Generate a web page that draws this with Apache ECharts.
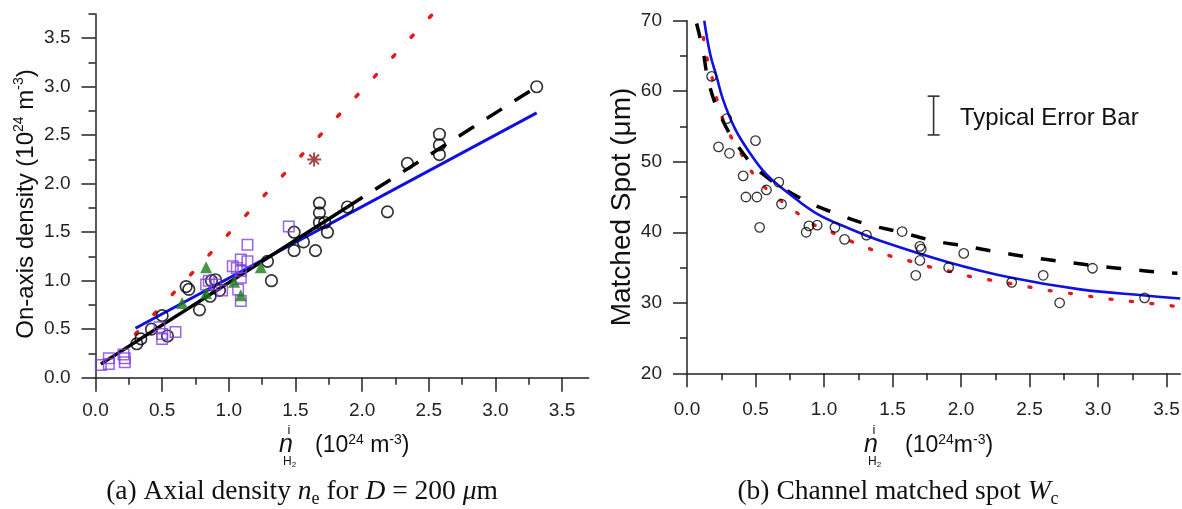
<!DOCTYPE html>
<html><head><meta charset="utf-8">
<script src="https://cdn.jsdelivr.net/npm/echarts@6/dist/echarts.min.js"></script>
<style>html,body{margin:0;padding:0;background:#fff}#c{width:1182px;height:509px}</style>
</head><body><div id="c"></div>
<script>
// ---------- Tick values ----------
const leftXMajor = [0, 0.5, 1, 1.5, 2, 2.5, 3, 3.5];
const leftXMinor = [0, 0.25, 0.5, 0.75, 1, 1.25, 1.5, 1.75, 2, 2.25, 2.5, 2.75, 3, 3.25, 3.5];
const leftYMajor = [0, 0.5, 1, 1.5, 2, 2.5, 3, 3.5];
const leftYMinor = [0, 0.25, 0.5, 0.75, 1, 1.25, 1.5, 1.75, 2, 2.25, 2.5, 2.75, 3, 3.25, 3.5, 3.75];
const rightXMajor = [0, 0.5, 1, 1.5, 2, 2.5, 3, 3.5];
const rightXMinor = [0, 0.25, 0.5, 0.75, 1, 1.25, 1.5, 1.75, 2, 2.25, 2.5, 2.75, 3, 3.25, 3.5];
const rightYMajor = [20, 30, 40, 50, 60, 70];
const rightYMinor = [20, 25, 30, 35, 40, 45, 50, 55, 60, 65, 70];

// ---------- Left panel (a) data ----------
const leftCircles = [[0.31,0.35],[0.34,0.40],[0.42,0.50],[0.50,0.64],[0.54,0.43],[0.68,0.94],[0.70,0.91],[0.78,0.70],[0.86,0.84],[0.87,1.00],[0.90,1.01],[0.93,0.90],[1.29,1.20],[1.32,1.00],[1.49,1.50],[1.49,1.31],[1.56,1.40],[1.65,1.31],[1.68,1.80],[1.68,1.70],[1.68,1.60],[1.72,1.60],[1.74,1.50],[1.89,1.76],[2.19,1.71],[2.34,2.21],[2.58,2.51],[2.58,2.40],[2.58,2.30],[3.31,3.00]];
const leftSquares = [[0.04,0.13],[0.10,0.20],[0.10,0.14],[0.21,0.24],[0.22,0.16],[0.22,0.20],[0.48,0.52],[0.50,0.45],[0.50,0.40],[0.60,0.47],[0.83,0.96],[0.85,1.00],[0.90,0.96],[0.95,0.90],[1.03,1.15],[1.06,1.13],[1.09,1.22],[1.09,1.10],[1.09,1.03],[1.07,0.91],[1.09,0.79],[1.14,1.20],[1.14,1.37],[1.45,1.56]];
const leftTriangles = [[0.65,0.77],[0.83,1.14],[0.83,0.87],[1.04,0.99],[1.09,0.85],[1.24,1.14]];
const leftStar = [[1.64,2.25]];
const leftRedFit = [[0.30,0.45],[2.55,3.78]];
const leftBlackFitSolid = [[0.04,0.14],[1.89,1.76]];
const leftBlackFitDashed = [[1.89,1.76],[3.31,3.00]];
const leftBlueFit = [[0.30,0.51],[3.31,2.73]];

// ---------- Right panel (b) data ----------
const rightCircles = [[0.18,62.1],[0.23,52.1],[0.29,56.1],[0.31,51.2],[0.41,48.0],[0.43,45.0],[0.50,53.0],[0.51,45.0],[0.53,40.7],[0.58,46.0],[0.67,47.1],[0.69,44.0],[0.87,40.0],[0.89,40.9],[0.95,41.0],[1.08,40.7],[1.15,39.0],[1.31,39.6],[1.57,40.1],[1.70,38.0],[1.71,37.6],[1.70,36.0],[1.67,33.9],[1.91,35.0],[2.02,37.0],[2.37,32.9],[2.60,33.9],[2.72,30.0],[2.96,34.9],[3.34,30.7]];
const rightBlue = [[0.126,70.0],[0.17,65.2],[0.217,62.0],[0.265,58.7],[0.35,54.7],[0.45,51.5],[0.58,48.2],[0.75,45.4],[0.95,42.6],[1.2,40.4],[1.41,38.8],[1.9,35.8],[2.38,33.5],[2.87,31.9],[3.36,31.0],[3.6,30.6]];
const rightBlackDashed = [[0.07,69.6],[0.115,65.9],[0.16,61.1],[0.245,56.5],[0.375,52.1],[0.55,48.3],[0.85,44.6],[1.08,42.7],[1.32,41.1],[1.54,40.1],[1.80,38.8],[2.04,38.0],[2.27,37.2],[2.52,36.4],[2.76,35.8],[3.00,35.2],[3.25,34.7],[3.48,34.3],[3.58,34.2]];
const rightRedDotted = [[0.12,67.6],[0.145,64.8],[0.18,62.2],[0.213,59.2],[0.254,56.4],[0.314,53.8],[0.40,51.0],[0.486,48.2],[0.60,45.8],[0.775,43.2],[0.905,41.3],[1.055,40.0],[1.20,38.7],[1.34,37.6],[1.49,36.6],[1.63,35.9],[1.77,35.1],[1.91,34.5],[2.05,33.8],[2.19,33.3],[2.34,32.8],[2.48,32.3],[2.62,31.8],[2.77,31.4],[2.91,31.0],[3.05,30.6],[3.19,30.3],[3.34,30.0],[3.48,29.7],[3.6,29.4]];
const errorBar = [[1.8, 53.8, 59.3]];

// ---------- Chart ----------
const SANS = 'Liberation Sans';
const SERIF = 'Liberation Serif';
const AX = '#222';

function majorAxis(gridIndex, min, max, ticks, fmt, margin, position) {
  return {
    type: 'value', gridIndex, min, max, interval: ticks[1] - ticks[0], position,
    axisLine: {show: true, onZero: false, lineStyle: {color: AX, width: 1.5}},
    axisTick: {show: true, inside: false, length: 14, customValues: ticks, lineStyle: {color: AX, width: 1.5}},
    axisLabel: {show: true, customValues: ticks, formatter: fmt, margin, fontSize: 19, color: AX, fontFamily: SANS},
    splitLine: {show: false}
  };
}
function minorAxis(gridIndex, min, max, ticks, position) {
  return {
    type: 'value', gridIndex, min, max, interval: ticks[1] - ticks[0], position,
    axisLine: {show: false, onZero: false},
    axisTick: {show: true, inside: false, length: 7, customValues: ticks, lineStyle: {color: AX, width: 1.5}},
    axisLabel: {show: false},
    splitLine: {show: false}
  };
}
const f1 = v => v.toFixed(1);
const f0 = v => String(Math.round(v));

const hollow = c => ({color: 'rgba(0,0,0,0)', borderColor: c, borderWidth: 1.7});

function xTitle(nx, px, txt) {
  return [
    {type: 'text', x: nx, y: 445, style: {text: 'n', fontSize: 25, fontStyle: 'italic', fontFamily: SANS, fill: '#111', align: 'center', verticalAlign: 'middle'}},
    {type: 'text', x: nx + 3, y: 430, style: {text: 'i', fontSize: 13, fontFamily: SANS, fill: '#111', align: 'center', verticalAlign: 'middle'}},
    {type: 'text', x: nx - 3, y: 462, style: {text: 'H{b|2}', fontSize: 12, fontFamily: SANS, fill: '#111', align: 'left', verticalAlign: 'middle', lineHeight: 14,
      rich: {b: {fontSize: 8, fontFamily: SANS, lineHeight: 8, verticalAlign: 'bottom', fill: '#111'}}}},
    {type: 'text', x: px, y: 446, style: {text: txt, fontSize: 23, fontFamily: SANS, fill: '#111',
      align: 'left', verticalAlign: 'middle', lineHeight: 26,
      rich: {s: {fontSize: 14, fontFamily: SANS, lineHeight: 12, verticalAlign: 'top', fill: '#111'}}}}
  ];
}
function caption(x, txt) {
  return {type: 'text', x, y: 492, style: {text: txt, fontSize: 27.5, fontFamily: SERIF, fill: '#111',
    align: 'center', verticalAlign: 'middle', lineHeight: 32,
    rich: {i: {fontSize: 27.5, fontStyle: 'italic', fontFamily: SERIF, fill: '#111', lineHeight: 32},
           sub: {fontSize: 18, fontFamily: SERIF, fill: '#111', lineHeight: 21, verticalAlign: 'bottom'}}}};
}

const option = {
  animation: false,
  backgroundColor: '#fff',
  grid: [
    {left: 95.5, top: 14, width: 493.2, height: 363.7, outerBoundsMode: 'none'},
    {left: 687, top: 20.7, width: 493.2, height: 352.6, outerBoundsMode: 'none'}
  ],
  xAxis: [
    majorAxis(0, 0, 3.7, leftXMajor, f1, 24, 'bottom'),
    minorAxis(0, 0, 3.7, leftXMinor, 'bottom'),
    majorAxis(1, 0, 3.6, rightXMajor, f1, 27, 'bottom'),
    minorAxis(1, 0, 3.6, rightXMinor, 'bottom')
  ],
  yAxis: [
    majorAxis(0, 0, 3.75, leftYMajor, f1, 25, 'left'),
    minorAxis(0, 0, 3.75, leftYMinor, 'left'),
    majorAxis(1, 20, 70, rightYMajor, f0, 25, 'left'),
    minorAxis(1, 20, 70, rightYMinor, 'left')
  ],
  series: [
    // left panel
    {type: 'line', xAxisIndex: 0, yAxisIndex: 0, data: leftRedFit, symbol: 'none', z: 2,
     lineStyle: {color: '#e41a1a', width: 3.5, type: [3, 24], cap: 'round'}},
    {type: 'line', xAxisIndex: 0, yAxisIndex: 0, data: leftBlueFit, symbol: 'none', z: 2,
     lineStyle: {color: '#1010e0', width: 3}},
    {type: 'line', xAxisIndex: 0, yAxisIndex: 0, data: leftBlackFitSolid, symbol: 'none', z: 2,
     lineStyle: {color: '#000', width: 3.5}},
    {type: 'line', xAxisIndex: 0, yAxisIndex: 0, data: leftBlackFitDashed, symbol: 'none', z: 2,
     lineStyle: {color: '#000', width: 3.5, type: [18, 15]}},
    {type: 'scatter', xAxisIndex: 0, yAxisIndex: 0, data: leftCircles, symbol: 'circle', symbolSize: 11.5, z: 3,
     itemStyle: hollow('#000')},
    {type: 'scatter', xAxisIndex: 0, yAxisIndex: 0, data: leftSquares, symbol: 'rect', symbolSize: 10.5, z: 3,
     itemStyle: {color: 'rgba(0,0,0,0)', borderColor: '#8040e0', borderWidth: 1.5}},
    {type: 'scatter', xAxisIndex: 0, yAxisIndex: 0, data: leftTriangles, symbol: 'triangle', symbolSize: 12, z: 3,
     itemStyle: {color: '#1a7d1a'}},
    {type: 'scatter', xAxisIndex: 0, yAxisIndex: 0, data: leftStar, z: 3,
     symbol: 'path://M0,-10L0,10M-10,0L10,0M-7,-7L7,7M-7,7L7,-7', symbolSize: 14,
     itemStyle: {color: 'rgba(0,0,0,0)', borderColor: '#8b1a1a', borderWidth: 2}},
    // right panel
    {type: 'line', xAxisIndex: 2, yAxisIndex: 2, data: rightRedDotted, symbol: 'none', smooth: 0.4, z: 2,
     lineStyle: {color: '#e41a1a', width: 3.4, type: [2, 18.5], cap: 'round'}},
    {type: 'line', xAxisIndex: 2, yAxisIndex: 2, data: rightBlackDashed, symbol: 'none', smooth: 0.4, z: 2,
     lineStyle: {color: '#000', width: 3.5, type: [15, 18]}},
    {type: 'line', xAxisIndex: 2, yAxisIndex: 2, data: rightBlue, symbol: 'none', smooth: 0.4, z: 2,
     lineStyle: {color: '#1010e0', width: 2.6}},
    {type: 'scatter', xAxisIndex: 2, yAxisIndex: 2, data: rightCircles, symbol: 'circle', symbolSize: 9.5, z: 3,
     itemStyle: {color: 'rgba(0,0,0,0)', borderColor: '#000', borderWidth: 1.3}},
    {type: 'custom', xAxisIndex: 2, yAxisIndex: 2, data: errorBar, encode: {x: 0, y: [1, 2]}, z: 3,
     renderItem: function (params, api) {
       const x = api.value(0), lo = api.value(1), hi = api.value(2);
       const p1 = api.coord([x, hi]), p2 = api.coord([x, lo]);
       const w = 6, st = {stroke: '#333', lineWidth: 1.6};
       return {type: 'group', children: [
         {type: 'line', shape: {x1: p1[0], y1: p1[1], x2: p2[0], y2: p2[1]}, style: st},
         {type: 'line', shape: {x1: p1[0] - w, y1: p1[1], x2: p1[0] + w, y2: p1[1]}, style: st},
         {type: 'line', shape: {x1: p2[0] - w, y1: p2[1], x2: p2[0] + w, y2: p2[1]}, style: st}
       ]};
     }}
  ],
  graphic: [
    // left y title
    {type: 'text', x: 26, y: 204, rotation: Math.PI / 2,
     style: {text: 'On-axis density (10{s|24} m{s|-3})', fontSize: 24, fontFamily: SANS, fill: '#111',
       align: 'center', verticalAlign: 'middle', lineHeight: 28,
       rich: {s: {fontSize: 14, fontFamily: SANS, lineHeight: 13, verticalAlign: 'top', fill: '#111'}}}},
    // right y title
    {type: 'text', x: 622, y: 207, rotation: Math.PI / 2,
     style: {text: 'Matched Spot (μm)', fontSize: 28, fontFamily: SANS, fill: '#111',
       align: 'center', verticalAlign: 'middle'}},
    ...xTitle(286, 315, '(10{s|24} m{s|-3})'),
    ...xTitle(871, 905, '(10{s|24}m{s|-3})'),
    // error bar text
    {type: 'text', x: 960, y: 118, style: {text: 'Typical Error Bar', fontSize: 24, fontFamily: SANS, fill: '#111', align: 'left', verticalAlign: 'middle'}},
    caption(302, '(a) Axial density {i|n}{sub|e} for {i|D} = 200 {i|μ}m'),
    caption(898, '(b) Channel matched spot {i|W}{sub|c}')
  ]
};
const chart = echarts.init(document.getElementById('c'));
chart.setOption(option);
</script>
</body></html>
